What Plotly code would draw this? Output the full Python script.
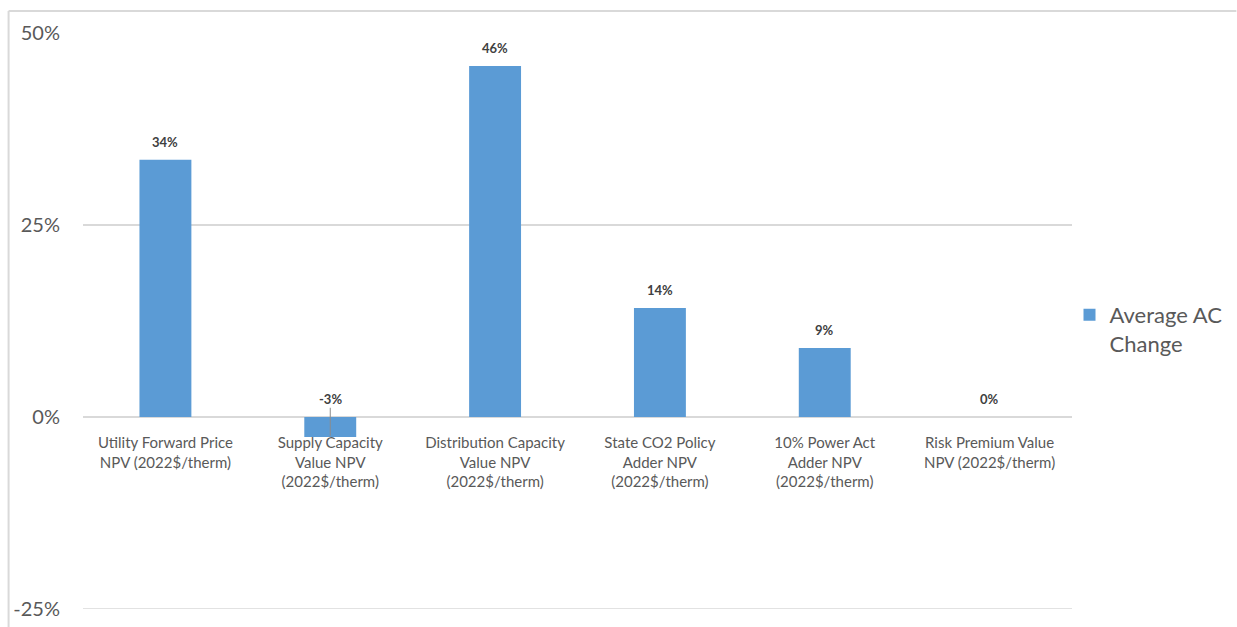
import plotly.graph_objects as go

categories = [
    "Utility Forward Price<br>NPV (2022$/therm)",
    "Supply Capacity<br>Value NPV<br>(2022$/therm)",
    "Distribution Capacity<br>Value NPV<br>(2022$/therm)",
    "State CO2 Policy<br>Adder NPV<br>(2022$/therm)",
    "10% Power Act<br>Adder NPV<br>(2022$/therm)",
    "Risk Premium Value<br>NPV (2022$/therm)",
]
values = [33.5, -2.6, 45.7, 14.2, 9.0, 0.0]
value_labels = ["34%", "-3%", "46%", "14%", "9%", "0%"]
series_name = "Average AC<br>Change"
tick_vals = [-25, 0, 25, 50]
tick_text = ["-25%", "0%", "25%", "50%"]

W, H = 1237, 627
L, R, T, B = 82.5, 164.5, 33, 18
pw, ph = W - L - R, H - T - B

def px_x(x):
    return (x - L) / pw

def px_y(y):
    return (H - B - y) / ph

FONT = "Lato"
BAR = "#5b9bd5"
GRID = "#d9d9d9"

fig = go.Figure()
fig.add_trace(go.Bar(
    x=list(range(len(categories))), y=values, name=series_name,
    marker=dict(color=BAR, line=dict(width=0)), width=0.315,
    showlegend=True,
))

for i, (v, lab) in enumerate(zip(values, value_labels)):
    fig.add_annotation(x=i, y=max(v, 0), text="<b>" + lab + "</b>", showarrow=False,
                       yanchor="bottom", yshift=8,
                       font=dict(family=FONT, size=13, color="#404040"))
    if v < 0:
        fig.add_shape(type="line", xref="x", yref="y", x0=i, x1=i, y0=v * 0.95, y1=1.2,
                      line=dict(color="#8c8c8c", width=1))

# gridline at the bottom edge of the range
fig.add_shape(type="line", xref="x domain", yref="y", x0=0, x1=1,
              y0=tick_vals[0], y1=tick_vals[0], line=dict(color=GRID, width=1.5))

# frame lines
fig.add_shape(type="line", xref="paper", yref="paper",
              x0=px_x(8), x1=px_x(W), y0=px_y(11), y1=px_y(11),
              line=dict(color=GRID, width=2))
fig.add_shape(type="line", xref="paper", yref="paper",
              x0=px_x(8), x1=px_x(8), y0=px_y(11), y1=px_y(H),
              line=dict(color=GRID, width=2))

fig.update_layout(
    width=W, height=H,
    margin=dict(l=L, r=R, t=T, b=B, pad=0, autoexpand=False),
    paper_bgcolor="white", plot_bgcolor="white",
    font=dict(family=FONT, color="#595959"),
    bargap=0.685,
    legend=dict(x=px_x(1070), y=px_y(294), xanchor="left", yanchor="top",
                valign="top",
                font=dict(family=FONT, size=22, color="#595959"),
                itemwidth=30, tracegroupgap=0, bgcolor="rgba(0,0,0,0)"),
    xaxis=dict(
        tickmode="array", tickvals=list(range(len(categories))), ticktext=categories,
        range=[-0.5, len(categories) - 0.5],
        anchor="free", position=1 / 3, automargin=False,
        showgrid=False, zeroline=False, showline=False, ticks="",
        tickfont=dict(family=FONT, size=15, color="#595959"),
        tickangle=0, ticklabelstandoff=15,
    ),
    yaxis=dict(
        range=[-25, 50], tickmode="array", tickvals=tick_vals, ticktext=tick_text,
        automargin=False,
        showgrid=True, gridcolor=GRID, gridwidth=1.5,
        zeroline=True, zerolinecolor=GRID, zerolinewidth=1.5,
        showline=False, ticks="",
        tickfont=dict(family=FONT, size=20, color="#595959"),
        ticklabelstandoff=22,
    ),
)

fig.write_html("out.html")
